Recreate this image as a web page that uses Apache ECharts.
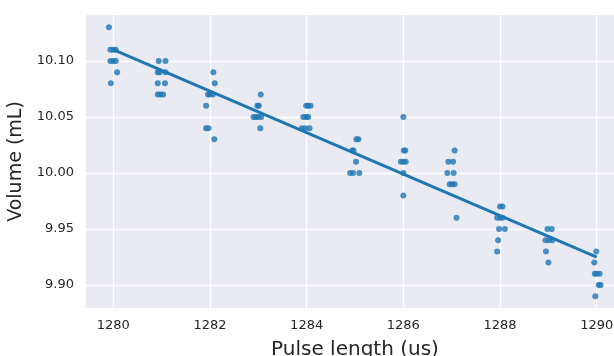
<!DOCTYPE html>
<html>
<head>
<meta charset="utf-8">
<script src="https://cdn.jsdelivr.net/npm/echarts@6/dist/echarts.min.js"></script>
<style>
  html, body { margin: 0; padding: 0; background: #fff; }
  #chart { width: 614px; height: 356px; }
</style>
</head>
<body>
<div id="chart"></div>
<script>
// pulse lengths (us) that were tested
const pulseLengths = [1280, 1281, 1282, 1283, 1284, 1285, 1286, 1287, 1288, 1289, 1290]

// measured volumes (mL) for each pulse length
const volumes = [
  [10.13, 10.11, 10.11, 10.11, 10.10, 10.10, 10.10, 10.09, 10.08],
  [10.10, 10.10, 10.09, 10.09, 10.09, 10.08, 10.08, 10.07, 10.07, 10.07],
  [10.09, 10.08, 10.07, 10.07, 10.07, 10.06, 10.04, 10.04, 10.03],
  [10.07, 10.06, 10.06, 10.05, 10.05, 10.05, 10.05, 10.04],
  [10.06, 10.06, 10.06, 10.05, 10.05, 10.05, 10.04, 10.04, 10.04],
  [10.03, 10.03, 10.02, 10.02, 10.01, 10.00, 10.00, 10.00],
  [10.05, 10.02, 10.02, 10.01, 10.01, 10.01, 10.00, 9.98],
  [10.02, 10.01, 10.01, 10.00, 10.00, 9.99, 9.99, 9.99, 9.96],
  [9.97, 9.97, 9.96, 9.96, 9.96, 9.95, 9.95, 9.94, 9.93],
  [9.95, 9.95, 9.94, 9.94, 9.94, 9.93, 9.92],
  [9.93, 9.92, 9.91, 9.91, 9.91, 9.90, 9.90, 9.89],
]

// horizontal jitter (us) of each plotted point
const jitter = [
  [-0.09, -0.06, 0.00, 0.05, -0.06, 0.00, 0.05, 0.08, -0.05],
  [-0.06, 0.08, -0.08, -0.04, 0.08, -0.08, 0.07, -0.08, -0.03, 0.03],
  [0.07, 0.10, -0.04, 0.00, 0.06, -0.08, -0.08, -0.03, 0.09],
  [0.05, -0.02, 0.01, -0.10, -0.05, 0.00, 0.06, 0.04],
  [-0.01, 0.03, 0.08, -0.07, -0.01, 0.03, -0.10, -0.03, 0.06],
  [0.03, 0.07, -0.06, -0.03, 0.02, -0.10, -0.04, 0.09],
  [0.00, 0.01, 0.04, -0.05, 0.00, 0.05, 0.00, 0.00],
  [0.06, -0.07, 0.03, -0.09, 0.04, -0.04, 0.01, 0.06, 0.10],
  [0.00, 0.05, -0.06, 0.00, 0.05, -0.02, 0.10, -0.04, -0.06],
  [-0.02, 0.07, -0.06, 0.01, 0.08, -0.05, 0.00],
  [-0.01, -0.05, -0.04, 0.00, 0.06, 0.04, 0.08, -0.03],
]

// fitted regression line, read at the ends of the tested range
const fitX = [1280, 1290]
const fitY = [10.110, 9.925]

const xTicks = [1280, 1282, 1284, 1286, 1288, 1290]
const yTicks = [9.90, 9.95, 10.00, 10.05, 10.10]

const points = []
pulseLengths.forEach((p, i) => {
  volumes[i].forEach((v, j) => {
    points.push([p + jitter[i][j], v])
  })
})

const chart = echarts.init(document.getElementById('chart'), null, { renderer: 'canvas' })

const textColor = '#262626'
const font = 'DejaVu Sans'

chart.setOption({
  animation: false,
  grid: {
    left: 86,
    right: -10,
    top: 15,
    bottom: 48,
    show: true,
    backgroundColor: '#eaeaf2',
    borderWidth: 0,
    // keep the plot box where it is, labels may sit outside it
    outerBoundsMode: 'none',
    containLabel: false,
  },
  xAxis: {
    type: 'value',
    min: 1279.436,
    max: 1290.564,
    name: 'Pulse length (us)',
    nameLocation: 'middle',
    nameGap: 32,
    nameTextStyle: { fontFamily: font, fontSize: 20, color: textColor },
    axisLine: { show: false },
    axisTick: { show: false, customValues: xTicks },
    axisLabel: {
      margin: 11,
      fontFamily: font,
      fontSize: 13,
      color: textColor,
      customValues: xTicks,
      formatter: v => String(Math.round(v)),
    },
    splitLine: { show: true, lineStyle: { color: '#ffffff', width: 1.3 } },
  },
  yAxis: {
    type: 'value',
    min: 9.8795,
    max: 10.141,
    name: 'Volume (mL)',
    nameLocation: 'middle',
    nameGap: 50,
    nameTextStyle: { fontFamily: font, fontSize: 19, color: textColor },
    axisLine: { show: false },
    axisTick: { show: false, customValues: yTicks },
    axisLabel: {
      margin: 12,
      fontFamily: font,
      fontSize: 13,
      color: textColor,
      customValues: yTicks,
      formatter: v => v.toFixed(2),
    },
    splitLine: { show: true, lineStyle: { color: '#ffffff', width: 1.3 } },
  },
  series: [
    {
      name: 'measurements',
      type: 'scatter',
      symbolSize: 6,
      itemStyle: { color: '#1f77b4', opacity: 0.8 },
      data: points,
      z: 2,
    },
    {
      name: 'fit',
      type: 'line',
      showSymbol: false,
      symbol: 'none',
      lineStyle: { color: '#1f77b4', width: 3 },
      data: fitX.map((x, i) => [x, fitY[i]]),
      z: 3,
    },
  ],
})
</script>
</body>
</html>
